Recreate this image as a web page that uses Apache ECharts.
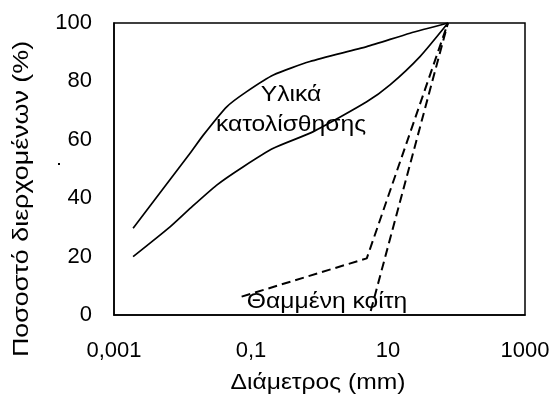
<!DOCTYPE html>
<html>
<head>
<meta charset="utf-8">
<script src="https://cdn.jsdelivr.net/npm/echarts@6/dist/echarts.min.js"></script>
<style>html,body{margin:0;padding:0;background:#fff;}#c{width:554px;height:396px;}</style>
</head>
<body>
<div id="c"></div>
<script>
// Data
const upperD = [0.0019, 0.0129, 0.0201, 0.0442, 0.0865, 0.212, 0.726, 4.89, 20.9, 75];
const upperP = [29.7, 55.4, 61.6, 71.3, 76.5, 82.2, 86.8, 91.9, 96.5, 100];
const lowerD = [0.0019, 0.00658, 0.0129, 0.0316, 0.0773, 0.212, 0.813, 4.89, 10.7, 29.3, 75];
const lowerP = [20.0, 30.2, 36.5, 44.5, 50.8, 57.1, 62.8, 73.0, 78.8, 88.5, 100];
const bed1D = [0.073, 4.9, 75];
const bed1P = [6.3, 19.4, 100];
const bed2D = [5.6, 75];
const bed2P = [1.4, 100];
const xTickExps = [-3, -1, 1, 3];
const xTickLabels = ['0,001', '0,1', '10', '1000'];
const yTicks = [0, 20, 40, 60, 80, 100];
const xTitle = 'Διάμετρος (mm)';
const yTitle = 'Ποσοστό διερχομένων (%)';
const label1a = 'Υλικά';
const label1b = 'κατολίσθησης';
const label2 = 'Θαμμένη κοίτη';

const FONT = "'Liberation Sans', Arial, sans-serif";
const zip = (a, b) => a.map((v, i) => [v, b[i]]);
const solid = {type: 'solid', width: 1.7, color: '#000'};
const dashed = {type: [9, 5], width: 2, color: '#000'};
const tstyle = (t) => ({text: t, fill: '#000', font: '22px ' + FONT, textAlign: 'center', textVerticalAlign: 'middle'});

const chart = echarts.init(document.getElementById('c'), null, {renderer: 'canvas'});
chart.setOption({
  animation: false,
  backgroundColor: '#fff',
  textStyle: {fontFamily: FONT},
  grid: {left: 114, right: 29, top: 23, bottom: 81, show: true, borderColor: '#000', borderWidth: 1.5, backgroundColor: 'transparent'},
  xAxis: {
    type: 'log', logBase: 10, min: 0.001, max: 1000,
    axisLine: {show: true, lineStyle: {color: '#000', width: 1.5}},
    axisTick: {show: false}, splitLine: {show: false}, minorTick: {show: false},
    axisLabel: {
      color: '#000', fontSize: 22, fontFamily: FONT, margin: 25, showMinLabel: true, showMaxLabel: true,
      formatter: function (v) {
        const e = Math.round(Math.log10(v));
        const i = xTickExps.indexOf(e);
        return i >= 0 ? xTickLabels[i] : '';
      }
    }
  },
  yAxis: {
    type: 'value', min: yTicks[0], max: yTicks[yTicks.length - 1], interval: 20,
    axisLine: {show: true, lineStyle: {color: '#000', width: 1.5}},
    axisTick: {show: false}, splitLine: {show: false},
    axisLabel: {color: '#000', fontSize: 22, fontFamily: FONT, margin: 22}
  },
  graphic: [
    {type: 'text', x: 22, y: 199, rotation: Math.PI / 2, scaleX: 1.22, style: tstyle(yTitle)},
    {type: 'text', x: 318, y: 383, scaleX: 1.12, style: tstyle(xTitle)},
    {type: 'text', x: 291, y: 95, scaleX: 1.12, style: tstyle(label1a)},
    {type: 'text', x: 291, y: 125, scaleX: 1.12, style: tstyle(label1b)},
    {type: 'text', x: 327, y: 302, scaleX: 1.12, style: tstyle(label2)},
    {type: 'rect', shape: {x: 58, y: 163, width: 2, height: 2}, style: {fill: '#000'}}
  ],
  series: [
    {type: 'line', data: zip(upperD, upperP), showSymbol: false, lineStyle: solid, smooth: 0.2},
    {type: 'line', data: zip(lowerD, lowerP), showSymbol: false, lineStyle: solid, smooth: 0.2},
    {type: 'line', data: zip(bed1D, bed1P), showSymbol: false, lineStyle: dashed},
    {type: 'line', data: zip(bed2D, bed2P), showSymbol: false, lineStyle: dashed}
  ]
});
</script>
</body>
</html>
